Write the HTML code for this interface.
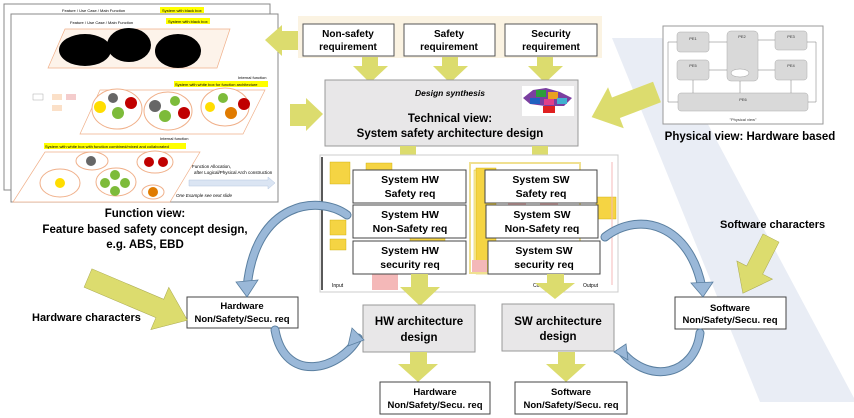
<!DOCTYPE html>
<html><head><meta charset="utf-8"><style>
html,body{margin:0;padding:0;background:#fff;}
svg{display:block;font-family:"Liberation Sans",sans-serif;}
.b{font-weight:bold;}
</style></head><body>
<svg width="854" height="418" viewBox="0 0 854 418" xmlns="http://www.w3.org/2000/svg">
<!-- background band -->
<polygon points="612,38 662,38 854,398 854,402 760,402" fill="#e9edf5"/>

<!-- function view image -->
<rect x="4" y="4" width="266" height="186" fill="#fff" stroke="#888"/>
<text x="62" y="12" font-size="4">Feature / Use Case / Main Function</text>
<rect x="160" y="7" width="44" height="6" fill="#ffff00"/><text x="162" y="12" font-size="4">System with black box</text>
<rect x="11" y="14" width="267" height="188" fill="#fff" stroke="#888"/>
<text x="70" y="24" font-size="4">Feature / Use Case / Main Function</text>
<rect x="166" y="18" width="44" height="6" fill="#ffff00"/><text x="168" y="23" font-size="4">System with black box</text>
<polygon points="65,29 230,29 217,68 48,68" fill="#fdf3ea" stroke="#f0b08a" stroke-width="0.7"/>
<ellipse cx="85" cy="50" rx="26" ry="16" fill="#000"/>
<ellipse cx="129" cy="45" rx="22" ry="17" fill="#000"/>
<ellipse cx="178" cy="51" rx="23" ry="17" fill="#000"/>
<text x="238" y="79" font-size="4">Internal function</text>
<rect x="174" y="81" width="94" height="6" fill="#ffff00"/><text x="175" y="86" font-size="4">System with white box for function architecture</text>
<polygon points="100,90 265,90 243,134 80,134" fill="#fff" stroke="#f0b08a" stroke-width="0.7"/>
<ellipse cx="117" cy="109" rx="25" ry="20" fill="#fff" stroke="#f0b08a"/>
<ellipse cx="168" cy="111" rx="24" ry="19" fill="#fff" stroke="#f0b08a"/>
<ellipse cx="225" cy="107" rx="24" ry="19" fill="#fff" stroke="#f0b08a"/>
<circle cx="100" cy="107" r="6" fill="#ffdd00"/><circle cx="113" cy="98" r="5" fill="#666"/><circle cx="131" cy="103" r="6" fill="#c00000"/><circle cx="118" cy="113" r="6" fill="#7dbb3a"/>
<circle cx="155" cy="106" r="6" fill="#666"/><circle cx="175" cy="101" r="5" fill="#7dbb3a"/><circle cx="165" cy="116" r="6" fill="#7dbb3a"/><circle cx="184" cy="113" r="6" fill="#c00000"/>
<circle cx="210" cy="107" r="5" fill="#ffdd00"/><circle cx="223" cy="98" r="5" fill="#7dbb3a"/><circle cx="231" cy="113" r="6" fill="#e07b00"/><circle cx="244" cy="104" r="6" fill="#c00000"/>
<rect x="33" y="94" width="10" height="6" fill="#fff" stroke="#999" stroke-width="0.4"/><rect x="52" y="94" width="10" height="6" fill="#fbe0c8"/><rect x="52" y="105" width="10" height="6" fill="#fbe0c8"/><rect x="66" y="94" width="10" height="6" fill="#f4cccc"/>
<text x="160" y="140" font-size="4">Internal function</text>
<rect x="44" y="143" width="142" height="6" fill="#ffff00"/><text x="45" y="148" font-size="4">System with white box with function combined/mixed and collaborated</text>
<polygon points="45,152 200,152 170,202 13,202" fill="#fff" stroke="#f0b08a" stroke-width="0.7"/>
<ellipse cx="60" cy="183" rx="20" ry="14" fill="#fff" stroke="#f0b08a"/>
<ellipse cx="92" cy="161" rx="16" ry="9" fill="#fff" stroke="#f0b08a"/>
<ellipse cx="116" cy="182" rx="20" ry="14" fill="#fff" stroke="#f0b08a"/>
<ellipse cx="155" cy="162" rx="18" ry="11" fill="#fff" stroke="#f0b08a"/>
<ellipse cx="153" cy="192" rx="11" ry="7" fill="#fff" stroke="#f0b08a"/>
<circle cx="60" cy="183" r="5" fill="#ffdd00"/><circle cx="91" cy="161" r="5" fill="#666"/>
<circle cx="115" cy="175" r="5" fill="#7dbb3a"/><circle cx="105" cy="183" r="5" fill="#7dbb3a"/><circle cx="125" cy="183" r="5" fill="#7dbb3a"/><circle cx="115" cy="191" r="5" fill="#7dbb3a"/>
<circle cx="149" cy="162" r="5" fill="#c00000"/><circle cx="163" cy="162" r="5" fill="#c00000"/><circle cx="153" cy="192" r="5" fill="#e07b00"/>
<text x="192" y="168" font-size="4.5">Function Allocation,</text><text x="194" y="174" font-size="4.5">after Logical/Physical Arch construction</text>
<polygon points="189,180 268,180 268,177 275,183 268,189 268,186 189,186" fill="#dbe5f3" stroke="#b4c6e0" stroke-width="0.5"/>
<text x="176" y="197" font-size="4.5" font-style="italic">One Example see next slide</text>

<text x="145" y="217" font-size="11.5" class="b" text-anchor="middle">Function view:</text>
<text x="145" y="233" font-size="11.5" class="b" text-anchor="middle">Feature based safety concept design,</text>
<text x="145" y="248" font-size="11.5" class="b" text-anchor="middle">e.g. ABS, EBD</text>

<!-- top-left arrow -->
<polygon points="265,40 282,25 282,31 300,31 300,50 282,50 282,56" fill="#dcdc6e"/>

<!-- requirements band -->
<rect x="298" y="16" width="304" height="42" fill="#fbf3e2"/>
<g font-size="10" class="b" text-anchor="middle">
<rect x="303" y="24" width="91" height="32" fill="#fff" stroke="#555"/><text x="348" y="37">Non-safety</text><text x="348" y="50">requirement</text>
<rect x="404" y="24" width="91" height="32" fill="#fff" stroke="#555"/><text x="449" y="37">Safety</text><text x="449" y="50">requirement</text>
<rect x="505" y="24" width="92" height="32" fill="#fff" stroke="#555"/><text x="551" y="37">Security</text><text x="551" y="50">requirement</text>
</g>
<g fill="#dcdc6e">
<polygon points="362,57 378,57 378,66 388,66 370,83 353,66 362,66"/>
<polygon points="442,57 458,57 458,66 468,66 450,83 433,66 442,66"/>
<polygon points="537,57 553,57 553,66 563,66 545,83 528,66 537,66"/>
</g>
<!-- tech box -->
<rect x="325" y="80" width="253" height="66" fill="#e8e7e8" stroke="#999"/>
<text x="450" y="96" font-size="8.5" font-style="italic" class="b" text-anchor="middle">Design synthesis</text>
<text x="450" y="122" font-size="11.5" class="b" text-anchor="middle">Technical view:</text>
<text x="450" y="137" font-size="11.5" class="b" text-anchor="middle">System safety architecture design</text>
<rect x="522" y="86" width="52" height="30" fill="#fff"/>
<g>
<polygon points="523,98 533,90 546,88 560,92 572,98 564,106 545,106 530,104" fill="#7a3fa0"/>
<rect x="536" y="90" width="10" height="7" fill="#2e9e3a"/><rect x="548" y="92" width="10" height="7" fill="#e8a020"/><rect x="530" y="98" width="10" height="6" fill="#2060c0"/><rect x="544" y="99" width="10" height="6" fill="#e0408a"/><rect x="557" y="98" width="10" height="6" fill="#40b0d0"/>
<rect x="543" y="106" width="12" height="7" fill="#e02020"/>
</g>
<polygon points="323,114 306,98 306,104 290,104 290,126 306,126 306,131" fill="#dcdc6e"/>
<g transform="translate(657,92) rotate(159)"><polygon points="0,-11 44,-11 44,-22 70,0 44,22 44,11 0,11" fill="#dcdc6e"/></g>

<!-- physical view -->
<rect x="663" y="26" width="160" height="98" fill="#fff" stroke="#999"/>
<g fill="#d9d9d9" stroke="#aaa" stroke-width="0.5">
<rect x="677" y="32" width="32" height="20" rx="3"/><rect x="727" y="31" width="31" height="50" rx="4"/><rect x="775" y="31" width="32" height="19" rx="3"/>
<rect x="677" y="60" width="32" height="20" rx="3"/><rect x="775" y="60" width="32" height="20" rx="3"/><rect x="678" y="93" width="130" height="18" rx="3"/>
</g>
<g stroke="#777" stroke-width="0.5" fill="none"><path d="M709,42 H727 M709,70 H727 M758,40 H775 M758,70 H775 M668,102 H678 M668,102 V42 H677 M808,102 H816 V42 H807 M693,93 V80 M791,93 V80 M740,81 V93"/></g>
<g font-size="4" text-anchor="middle" fill="#333"><text x="693" y="40">PE1</text><text x="742" y="38">PE2</text><text x="791" y="38">PE3</text><text x="693" y="67">PE5</text><text x="791" y="67">PE4</text><text x="743" y="101">PE6</text><text x="743" y="121">"Physical view"</text></g>
<ellipse cx="740" cy="73" rx="9" ry="4" fill="#fff" stroke="#888" stroke-width="0.4"/>
<text x="750" y="140" font-size="11.5" class="b" text-anchor="middle">Physical view: Hardware based</text>

<g fill="#dcdc6e">
<polygon points="400,146 416,146 416,157 425,157 408,173 391,157 400,157"/>
<polygon points="532,146 548,146 548,157 557,157 540,173 523,157 532,157"/>
</g>
<!-- tech image -->
<rect x="320" y="155" width="298" height="137" fill="#fff" stroke="#ccc"/>
<line x1="322" y1="157" x2="322" y2="290" stroke="#222" stroke-width="1.5"/>
<g fill="#f5d443" stroke="#c9a800" stroke-width="0.4">
<rect x="330" y="162" width="20" height="22"/><rect x="366" y="163" width="26" height="8"/><rect x="330" y="220" width="16" height="15"/><rect x="330" y="239" width="16" height="11"/>
<rect x="474" y="170" width="12" height="100" fill="#fff2a8"/><rect x="476" y="168" width="20" height="106"/><rect x="596" y="197" width="20" height="22"/>
<rect x="410" y="238" width="35" height="6"/>
</g>
<rect x="470" y="163" width="110" height="110" fill="none" stroke="#f0e090" stroke-width="2"/>
<g fill="#f4b8b8"><rect x="372" y="274" width="26" height="16"/><rect x="472" y="260" width="15" height="12"/><rect x="508" y="203" width="18" height="4"/><rect x="540" y="203" width="18" height="4"/></g>
<line x1="612" y1="162" x2="612" y2="285" stroke="#f4b8b8"/>
<text x="332" y="287" font-size="5">Input</text><text x="533" y="287" font-size="5">Cont</text><text x="583" y="287" font-size="5">Output</text>
<g font-size="10.5" class="b" text-anchor="middle">
<rect x="353" y="170" width="113" height="33" fill="#fff" stroke="#444"/><text x="410" y="183">System HW</text><text x="410" y="197">Safety req</text>
<rect x="353" y="205" width="113" height="33" fill="#fff" stroke="#444"/><text x="410" y="218">System HW</text><text x="410" y="232">Non-Safety req</text>
<rect x="353" y="241" width="113" height="33" fill="#fff" stroke="#444"/><text x="410" y="254">System HW</text><text x="410" y="268">security req</text>
<rect x="485" y="170" width="112" height="33" fill="#fff" stroke="#444"/><text x="541" y="183">System SW</text><text x="541" y="197">Safety req</text>
<rect x="486" y="205" width="112" height="33" fill="#fff" stroke="#444"/><text x="542" y="218">System SW</text><text x="542" y="232">Non-Safety req</text>
<rect x="488" y="241" width="112" height="33" fill="#fff" stroke="#444"/><text x="544" y="254">System SW</text><text x="544" y="268">security req</text>
</g>
<g fill="#dcdc6e">
<polygon points="411,274 428,274 428,287 440,287 420,306 400,287 411,287"/>
<polygon points="547,274 564,274 564,283 575,283 555,299 535,283 547,283"/>
</g>
<g font-size="11.5" class="b" text-anchor="middle">
<rect x="363" y="305" width="112" height="47" fill="#e8e7e8" stroke="#999"/><text x="419" y="325">HW architecture</text><text x="419" y="341">design</text>
<rect x="502" y="304" width="112" height="47" fill="#e8e7e8" stroke="#999"/><text x="558" y="325">SW architecture</text><text x="558" y="340">design</text>
</g>
<g fill="#dcdc6e">
<polygon points="410,352 427,352 427,364 438,364 418,382 398,364 410,364"/>
<polygon points="558,352 575,352 575,364 586,364 566,382 546,364 558,364"/>
</g>
<g font-size="9.5" class="b" text-anchor="middle">
<rect x="380" y="382" width="110" height="32" fill="#fff" stroke="#444"/><text x="435" y="395">Hardware</text><text x="435" y="408">Non/Safety/Secu. req</text>
<rect x="515" y="382" width="112" height="32" fill="#fff" stroke="#444"/><text x="571" y="395">Software</text><text x="571" y="408">Non/Safety/Secu. req</text>
<rect x="187" y="297" width="111" height="31" fill="#fff" stroke="#444"/><text x="242" y="307" dy="2">Hardware</text><text x="242" y="322">Non/Safety/Secu. req</text>
<rect x="675" y="297" width="111" height="32" fill="#fff" stroke="#444"/><text x="730" y="311">Software</text><text x="730" y="323">Non/Safety/Secu. req</text>
</g>

<text x="32" y="321" font-size="11" class="b">Hardware characters</text>
<text x="720" y="228" font-size="11" class="b">Software characters</text>
<g transform="translate(88,278) rotate(23)"><polygon points="0,-10 78,-10 78,-23 108,0 78,23 78,10 0,10" fill="#dcdc6e" stroke="#a8a850" stroke-width="0.5"/></g>
<g transform="translate(771,238) rotate(117)"><polygon points="0,-9 36,-9 36,-20 62,0 36,20 36,9 0,9" fill="#dcdc6e" stroke="#a8a850" stroke-width="0.5"/></g>

<g fill="none" stroke-linecap="round">
<path d="M347,215 C320,195 255,200 247,288" stroke="#5a7fa0" stroke-width="9"/>
<path d="M347,215 C320,195 255,200 247,288" stroke="#9ab8d8" stroke-width="7"/>
<path d="M275,330 C285,385 340,370 358,338" stroke="#5a7fa0" stroke-width="9"/>
<path d="M275,330 C285,385 340,370 358,338" stroke="#9ab8d8" stroke-width="7"/>
<path d="M605,237 C640,210 690,225 702,288" stroke="#5a7fa0" stroke-width="9"/>
<path d="M605,237 C640,210 690,225 702,288" stroke="#9ab8d8" stroke-width="7"/>
<path d="M700,333 C695,375 650,385 622,352" stroke="#5a7fa0" stroke-width="9"/>
<path d="M700,333 C695,375 650,385 622,352" stroke="#9ab8d8" stroke-width="7"/>
</g>
<g fill="#9ab8d8" stroke="#5a7fa0" stroke-width="0.8">
<polygon points="236,282 258,280 247,297"/>
<polygon points="352,328 364,340 348,346"/>
<polygon points="691,283 713,282 703,297"/>
<polygon points="626,344 614,352 628,360"/>
</g>
</svg>
</body></html>
